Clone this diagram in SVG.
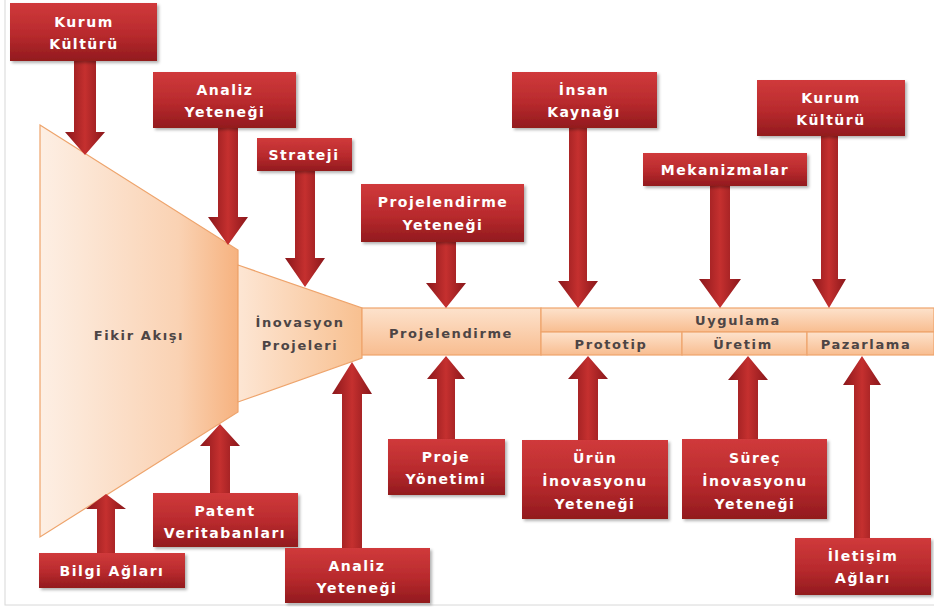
<svg xmlns="http://www.w3.org/2000/svg" width="934" height="607" viewBox="0 0 934 607">
<defs>
<linearGradient id="gBox" x1="0" y1="0" x2="0" y2="1">
<stop offset="0" stop-color="#d03a3b"/><stop offset="0.55" stop-color="#b82a2d"/><stop offset="1" stop-color="#921a1e"/>
</linearGradient>
<linearGradient id="gArrow" x1="0" y1="0" x2="1" y2="0">
<stop offset="0" stop-color="#8a171b"/><stop offset="0.5" stop-color="#c5302f"/><stop offset="1" stop-color="#8a171b"/>
</linearGradient>
<linearGradient id="gBig" x1="0" y1="0" x2="1" y2="0">
<stop offset="0" stop-color="#fdefe4"/><stop offset="0.7" stop-color="#fad2b3"/><stop offset="1" stop-color="#f6b27f"/>
</linearGradient>
<linearGradient id="gSmall" x1="0" y1="0" x2="1" y2="0">
<stop offset="0" stop-color="#fde6d4"/><stop offset="1" stop-color="#f8c090"/>
</linearGradient>
<linearGradient id="gBar" x1="0" y1="0" x2="0" y2="1">
<stop offset="0" stop-color="#fde2cc"/><stop offset="1" stop-color="#f8bd90"/>
</linearGradient>
<filter id="sh" x="-10%" y="-10%" width="125%" height="130%">
<feDropShadow dx="2" dy="2" stdDeviation="1.5" flood-color="#000" flood-opacity="0.3"/>
</filter>
</defs>
<style>
.box{fill:url(#gBox);filter:url(#sh)}
.arr{fill:url(#gArrow)}
.wt{fill:#ffffff;font-family:"DejaVu Sans",sans-serif;font-weight:bold;font-size:14px;letter-spacing:1.5px;text-anchor:middle}
.dt{fill:#4d4545;font-family:"DejaVu Sans",sans-serif;font-weight:bold;font-size:13px;letter-spacing:1.6px;text-anchor:middle}
.pe{stroke:#eea46c;stroke-width:1.2}
</style>
<rect x="5" y="-2" width="931" height="607" fill="none" stroke="#d8d8d8" stroke-width="1"/>

<g id="fikir-akisi">
<polygon class="pe" points="40,125 238,250 238,412 40,537" fill="url(#gBig)"/>
<text class="dt" x="139" y="340" font-size="12">Fikir Akışı</text>
</g>
<g id="inovasyon-projeleri">
<polygon class="pe" points="238,265 362,308 362,358 238,402" fill="url(#gSmall)"/>
<text class="dt" x="300" y="327">İnovasyon</text>
<text class="dt" x="300" y="350">Projeleri</text>
</g>
<g id="projelendirme">
<rect class="pe" x="362" y="308" width="179" height="47" fill="url(#gBar)"/>
<text class="dt" x="451" y="338">Projelendirme</text>
</g>
<g id="uygulama">
<rect class="pe" x="541" y="308" width="393" height="24" fill="url(#gBar)"/>
<text class="dt" x="738" y="325">Uygulama</text>
</g>
<g id="prototip">
<rect class="pe" x="541" y="332" width="141" height="23" fill="url(#gBar)"/>
<text class="dt" x="611" y="349">Prototip</text>
</g>
<g id="uretim">
<rect class="pe" x="682" y="332" width="125" height="23" fill="url(#gBar)"/>
<text class="dt" x="743" y="349">Üretim</text>
</g>
<g id="pazarlama">
<rect class="pe" x="807" y="332" width="127" height="23" fill="url(#gBar)"/>
<text class="dt" x="866" y="349">Pazarlama</text>
</g>

<g id="connectors">
<polygon class="arr" points="74,61 96,61 96,132 105,132 85,155 65,132 74,132"/>
<polygon class="arr" points="218,128 238,128 238,217 248,217 228,245 208,217 218,217"/>
<polygon class="arr" points="295,171 315,171 315,258 325,258 305,287 285,258 295,258"/>
<polygon class="arr" points="436,242 456,242 456,283 466,283 446,308 426,283 436,283"/>
<polygon class="arr" points="569,128 587,128 587,281 598,281 578,308 558,281 569,281"/>
<polygon class="arr" points="710,186 730,186 730,279 741,279 720,308 699,279 710,279"/>
<polygon class="arr" points="821,136 838,136 838,279 846,279 829,308 812,279 821,279"/>
<polygon class="arr" points="97,553 115,553 115,509 126,509 106,494 86,509 97,509"/>
<polygon class="arr" points="210,493 230,493 230,446 240,446 220,424 200,446 210,446"/>
<polygon class="arr" points="342,548 362,548 362,394 372,394 352,362 332,394 342,394"/>
<polygon class="arr" points="437,439 455,439 455,379 465,379 446,356 427,379 437,379"/>
<polygon class="arr" points="578,440 598,440 598,379 608,379 588,356 568,379 578,379"/>
<polygon class="arr" points="738,439 758,439 758,380 768,380 748,356 728,380 738,380"/>
<polygon class="arr" points="854,538 870,538 870,385 881,385 862,356 843,385 854,385"/>
</g>

<g id="kurum-kulturu-1">
<rect class="box" x="10" y="3" width="147" height="58"/>
<text class="wt" x="84" y="27">Kurum</text>
<text class="wt" x="84" y="49">Kültürü</text>
</g>
<g id="analiz-yetenegi-1">
<rect class="box" x="153" y="72" width="143" height="56"/>
<text class="wt" x="225" y="95">Analiz</text>
<text class="wt" x="225" y="117">Yeteneği</text>
</g>
<g id="strateji">
<rect class="box" x="257" y="138" width="95" height="33"/>
<text class="wt" x="304" y="160">Strateji</text>
</g>
<g id="projelendirme-yetenegi">
<rect class="box" x="361" y="184" width="163" height="58"/>
<text class="wt" x="443" y="207">Projelendirme</text>
<text class="wt" x="443" y="230">Yeteneği</text>
</g>
<g id="insan-kaynagi">
<rect class="box" x="512" y="72" width="145" height="56"/>
<text class="wt" x="584" y="95">İnsan</text>
<text class="wt" x="584" y="117">Kaynağı</text>
</g>
<g id="mekanizmalar">
<rect class="box" x="643" y="153" width="164" height="33"/>
<text class="wt" x="725" y="175">Mekanizmalar</text>
</g>
<g id="kurum-kulturu-2">
<rect class="box" x="757" y="80" width="148" height="56"/>
<text class="wt" x="831" y="103">Kurum</text>
<text class="wt" x="831" y="125">Kültürü</text>
</g>
<g id="bilgi-aglari">
<rect class="box" x="39" y="553" width="146" height="35"/>
<text class="wt" x="112" y="576">Bilgi Ağları</text>
</g>
<g id="patent-veritabanlari">
<rect class="box" x="153" y="493" width="145" height="54"/>
<text class="wt" x="225" y="516">Patent</text>
<text class="wt" x="225" y="538">Veritabanları</text>
</g>
<g id="analiz-yetenegi-2">
<rect class="box" x="285" y="548" width="145" height="55"/>
<text class="wt" x="357" y="571">Analiz</text>
<text class="wt" x="357" y="593">Yeteneği</text>
</g>
<g id="proje-yonetimi">
<rect class="box" x="388" y="439" width="117" height="56"/>
<text class="wt" x="446" y="462">Proje</text>
<text class="wt" x="446" y="484">Yönetimi</text>
</g>
<g id="urun-inovasyonu-yetenegi">
<rect class="box" x="522" y="440" width="146" height="79"/>
<text class="wt" x="595" y="463">Ürün</text>
<text class="wt" x="595" y="486">İnovasyonu</text>
<text class="wt" x="595" y="509">Yeteneği</text>
</g>
<g id="surec-inovasyonu-yetenegi">
<rect class="box" x="682" y="439" width="145" height="80"/>
<text class="wt" x="755" y="463">Süreç</text>
<text class="wt" x="755" y="486">İnovasyonu</text>
<text class="wt" x="755" y="509">Yeteneği</text>
</g>
<g id="iletisim-aglari">
<rect class="box" x="795" y="538" width="136" height="57"/>
<text class="wt" x="863" y="561">İletişim</text>
<text class="wt" x="863" y="583">Ağları</text>
</g>
</svg>
